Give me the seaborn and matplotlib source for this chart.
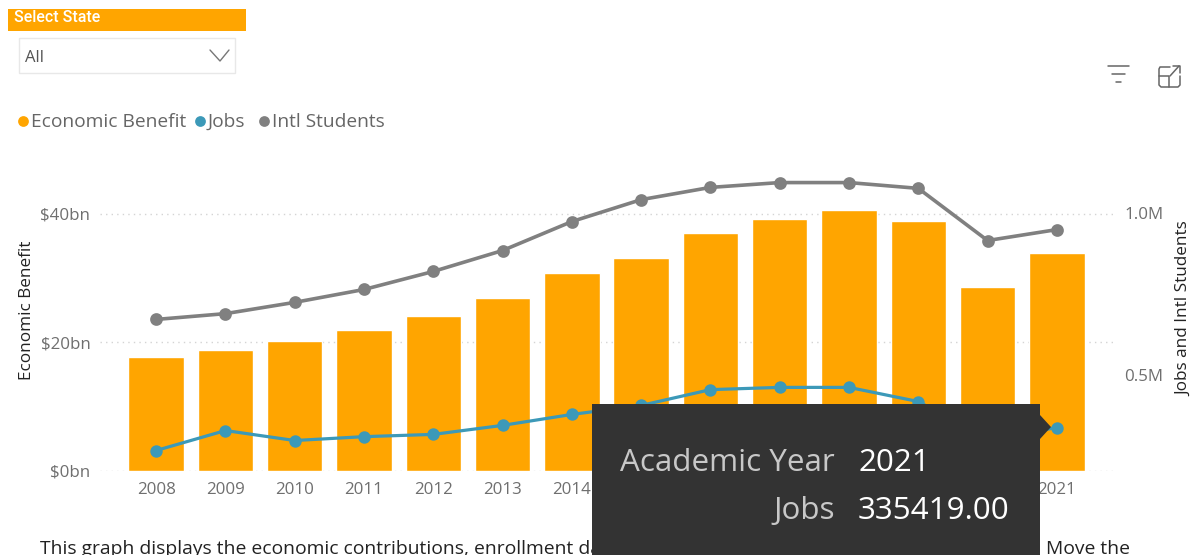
import matplotlib
matplotlib.use("Agg")
import pandas as pd
import seaborn as sns
import matplotlib.pyplot as plt
from matplotlib.patches import Rectangle, Polygon

years = [2008, 2009, 2010, 2011, 2012, 2013, 2014, 2015, 2016, 2017, 2018, 2019, 2020, 2021]
# labels under the tooltip are not visible in the reference
year_labels = ["2008", "2009", "2010", "2011", "2012", "2013", "2014", "", "", "", "", "", "", "2021"]
benefit_bn = [17.7, 18.8, 20.2, 21.9, 24.1, 26.9, 30.7, 33.0, 37.0, 39.2, 40.6, 38.9, 28.5, 33.9]
students_m = [0.671, 0.689, 0.724, 0.764, 0.820, 0.885, 0.975, 1.043, 1.081, 1.096, 1.096, 1.078, 0.916, 0.950]
jobs_m = [0.264, 0.326, 0.295, 0.307, 0.314, 0.342, 0.376, 0.404, 0.453, 0.460, 0.460, 0.416, 0.300, 0.335]
left_ticks = [0, 20, 40]
left_labels = ["$0bn", "$20bn", "$40bn"]
right_ticks = [0.5, 1.0]
right_labels = ["0.5M", "1.0M"]

ORANGE = "#FFA500"
TEAL = "#3C99B8"
GRAY = "#808080"
W, H = 1190, 555

df = pd.DataFrame({"year": years, "benefit": benefit_bn, "students": students_m, "jobs": jobs_m})

sns.set_theme(style="white")
plt.rcParams["font.family"] = ["Open Sans", "DejaVu Sans"]

fig = plt.figure(figsize=(W / 100, H / 100), dpi=100)
# chart area in pixels: x 100..1113, y 169.5..470.5
ax = fig.add_axes([100 / W, 1 - 470.5 / H, 1013 / W, 301 / H])
sns.barplot(data=df, x="year", y="benefit", color=ORANGE, saturation=1, width=0.8, ax=ax, zorder=2)
ax.set_xlim(-0.81, 13.81)
ax.set_ylim(0, 46.85)
ax.set_xticks(range(len(years)), year_labels)
ax.set_yticks(left_ticks, left_labels)
ax.yaxis.grid(True, color="#d4d4d4", linestyle=(0, (1, 3)), linewidth=1, zorder=0)
ax.set_axisbelow(True)
ax.tick_params(axis="x", length=0, pad=8, labelsize=12.2, labelcolor="#6f6f6f")
ax.tick_params(axis="y", length=0, pad=7, labelsize=12.2, labelcolor="#6f6f6f")
ax.set_xlabel("")
ax.set_ylabel("")
sns.despine(ax=ax, left=True, bottom=True)

ax2 = ax.twinx()
sns.pointplot(data=df, x="year", y="students", color=GRAY, markersize=7.2, linewidth=2.6, ax=ax2)
sns.pointplot(data=df, x="year", y="jobs", color=TEAL, markersize=7.2, linewidth=2.3, ax=ax2)
ax2.set_xlim(-0.81, 13.81)
ax2.set_ylim(0.2019, 1.1366)
ax2.set_yticks(right_ticks, right_labels)
ax2.grid(False)
ax2.tick_params(axis="y", length=0, pad=8, labelsize=12.2, labelcolor="#6f6f6f")
ax2.set_xlabel("")
ax2.set_ylabel("")
sns.despine(ax=ax2, left=True, bottom=True, right=True)

# everything outside the plot goes on a pixel overlay
ui = fig.add_axes([0, 0, 1, 1], zorder=5)
ui.set_xlim(0, W)
ui.set_ylim(H, 0)
ui.axis("off")
ui.patch.set_alpha(0)

ui.text(27, 310, "Economic Benefit", rotation=90, ha="center", va="center", fontsize=12.3, color="#222222")
ui.text(1184, 309, "Jobs and Intl Students", rotation=90, ha="center", va="center", fontsize=12.3, color="#222222")

# slicer
ui.add_patch(Rectangle((8, 9), 238, 22, color=ORANGE, lw=0))
ui.text(14, 18, "Select State", ha="left", va="center", fontsize=11.5, color="white", family="Roboto", fontweight="medium")
ui.add_patch(Rectangle((18.5, 37.5), 216, 35, fc="white", ec="#e8e8e8", lw=1))
ui.text(25, 58, "All", ha="left", va="center", fontsize=12, color="#555555")
ui.plot([210, 220, 229], [50, 61, 50], color="#777777", lw=1)

# legend
ui.scatter([23], [121], s=60, color=ORANGE, lw=0)
ui.text(31, 122, "Economic Benefit", ha="left", va="center", fontsize=13.8, color="#666666")
ui.scatter([200], [121], s=60, color=TEAL, lw=0)
ui.text(208, 122, "Jobs", ha="left", va="center", fontsize=13.8, color="#666666")
ui.scatter([264], [121], s=60, color=GRAY, lw=0)
ui.text(272, 122, "Intl Students", ha="left", va="center", fontsize=13.8, color="#666666")

# filter and focus icons
for x0, x1, y in [(1108, 1129, 66), (1112, 1125, 74), (1116, 1121, 82)]:
    ui.plot([x0, x1], [y, y], color="#666666", lw=1.1)
ui.plot([1170, 1160, 1159, 1159, 1161, 1178, 1180, 1180], [67, 67, 69, 85, 87, 87, 85, 76], color="#666666", lw=1.1)
ui.plot([1159, 1169, 1169], [76, 76, 87], color="#666666", lw=1.1)
ui.plot([1170, 1179], [76, 66], color="#666666", lw=1.1)
ui.plot([1173, 1180, 1180], [66, 66, 73], color="#666666", lw=1.1)

# text under the chart, cut off by the bottom edge
ui.text(40, 549, "This graph displays the economic contributions, enrollment da", ha="left", va="center",
        fontsize=13.9, color="#222222")
ui.text(1046, 549, "Move the", ha="left", va="center", fontsize=13.9, color="#222222")

# tooltip
ui.add_patch(Rectangle((592, 404), 448, 151, color="#333333", lw=0, zorder=6))
ui.add_patch(Polygon([(1040, 415), (1051, 427), (1040, 439)], closed=True, color="#333333", lw=0, zorder=6))
ui.text(835, 463, "Academic Year", ha="right", va="center", fontsize=22.6, color="#c8c8c8", zorder=7)
ui.text(858, 463, "2021", ha="left", va="center", fontsize=22.6, color="white", zorder=7)
ui.text(835, 511, "Jobs", ha="right", va="center", fontsize=22.6, color="#c8c8c8", zorder=7)
ui.text(858, 511, "335419.00", ha="left", va="center", fontsize=22.6, color="white", zorder=7)

fig.savefig("out.png", dpi=100)
